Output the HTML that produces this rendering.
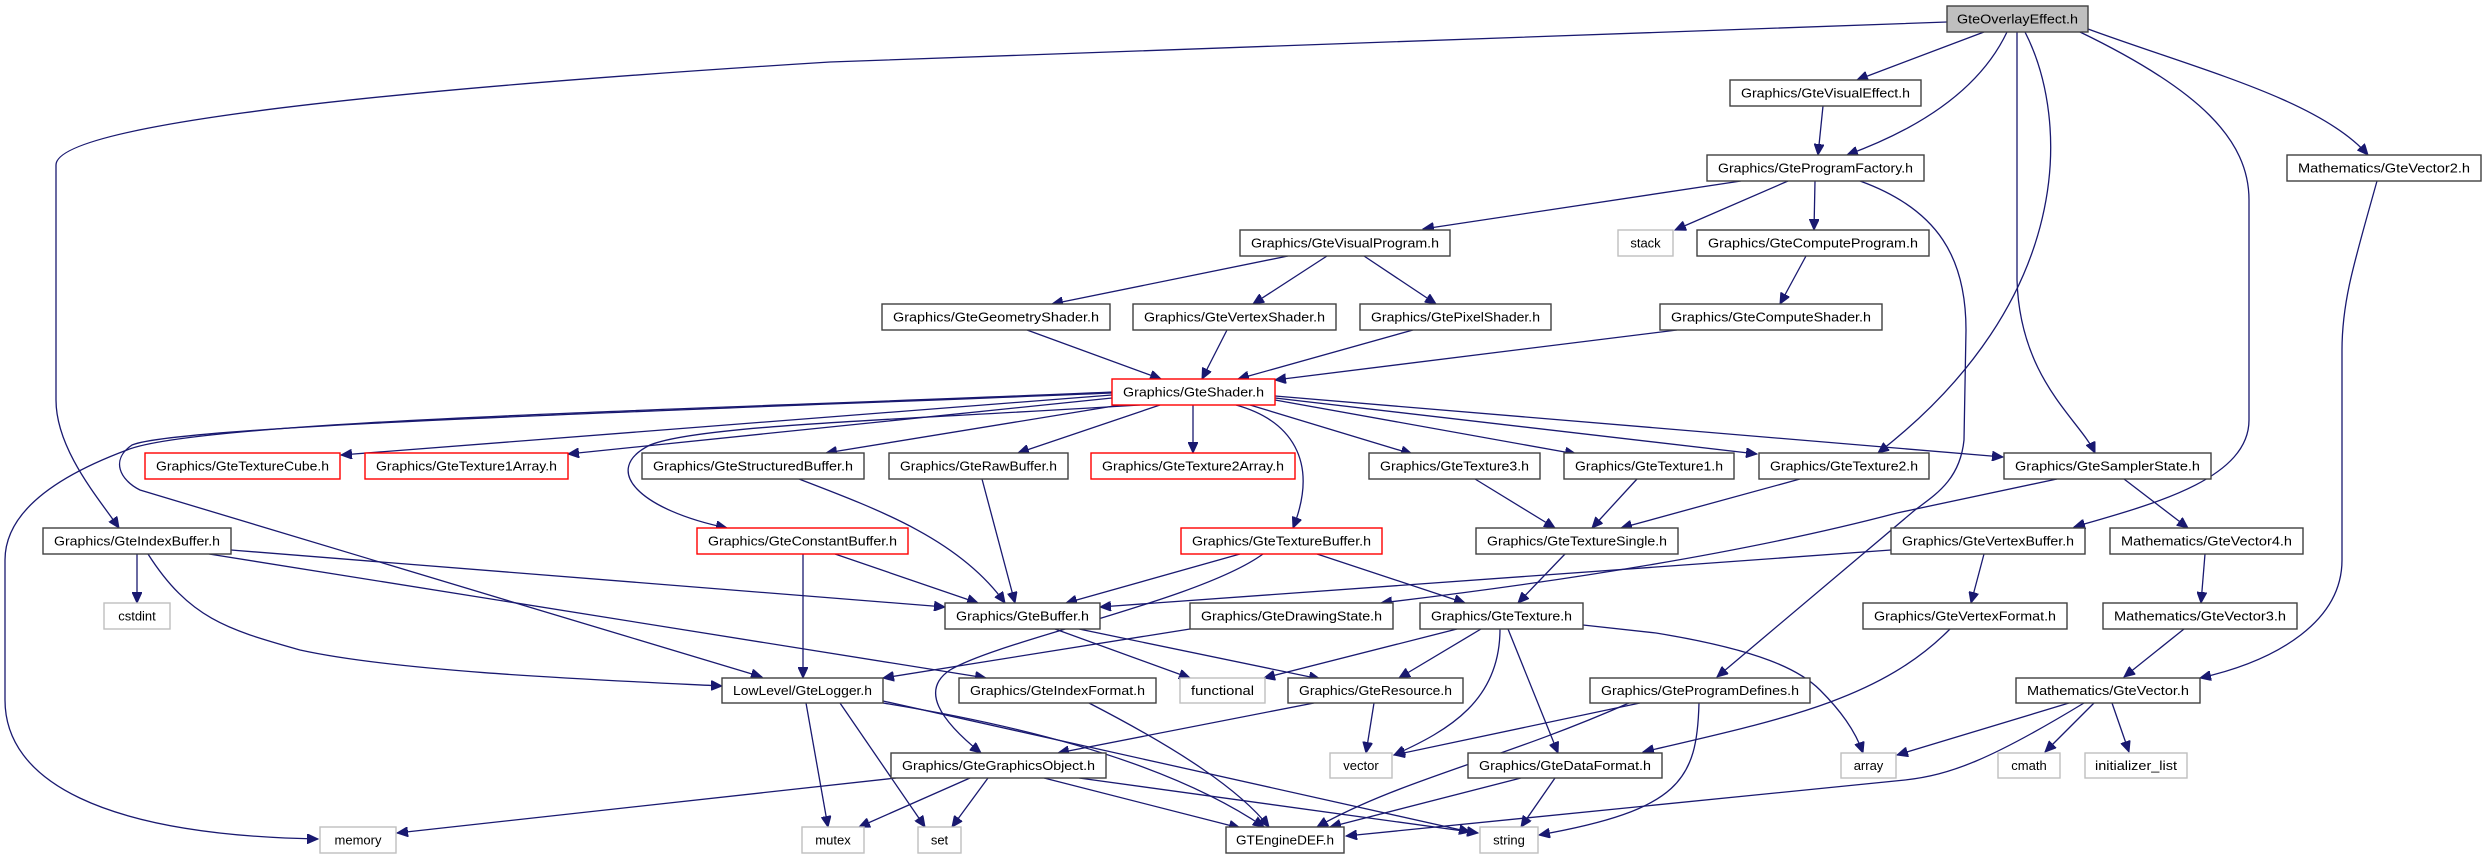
<!DOCTYPE html>
<html><head><meta charset="utf-8"><style>
html,body{margin:0;padding:0;background:#fff;}
svg{display:block;}
text{font-family:"Liberation Sans",sans-serif;font-size:13px;fill:#000;}
.e{fill:none;stroke:#191970;stroke-width:1.3;}
.n{fill:#fff;stroke:#404040;stroke-width:1.4;}
.r{fill:#fff;stroke:#ff0000;stroke-width:1.4;}
.g{fill:#fff;stroke:#bfbfbf;stroke-width:1.4;}
</style></head><body>
<svg width="2486" height="859" viewBox="0 0 2486 859" xmlns="http://www.w3.org/2000/svg">
<defs><marker id="a" markerUnits="userSpaceOnUse" markerWidth="12" markerHeight="10" refX="11" refY="5" orient="auto"><path d="M0,0 L11,5 L0,10 Z" fill="#191970" stroke="#191970"/></marker></defs>
<g marker-end="url(#a)">
<path class="e" d="M1984 32 L1857 80"/>
<path class="e" d="M2007 32 Q1970 110 1847 155"/>
<path class="e" d="M2025 32 C2070 120 2075 300 1878 453"/>
<path class="e" d="M2017 32 L2017 280 C2020 380 2080 420 2095 453"/>
<path class="e" d="M2080 32 C2200 90 2249 140 2249 200 L2249 420 C2249 480 2150 505 2074 527"/>
<path class="e" d="M2088 29 C2200 70 2320 100 2368 155"/>
<path class="e" d="M1947 22 L830 62 C300 95 56 130 56 165 L56 400 C56 450 100 500 119 528"/>
<path class="e" d="M1823 106 L1818 155"/>
<path class="e" d="M1741 181 L1423 229"/>
<path class="e" d="M1788 181 L1675 230"/>
<path class="e" d="M1815 181 L1814 230"/>
<path class="e" d="M1860 181 C1940 210 1966 260 1966 330 L1964 440 C1960 480 1935 495 1915 510 L1717 677"/>
<path class="e" d="M1806 256 L1780 304"/>
<path class="e" d="M1677 330 L1275 380"/>
<path class="e" d="M1288 256 L1052 304"/>
<path class="e" d="M1327 256 L1253 304"/>
<path class="e" d="M1364 256 L1436 304"/>
<path class="e" d="M1027 330 L1161 379"/>
<path class="e" d="M1227 330 L1202 379"/>
<path class="e" d="M1413 330 L1238 379"/>
<path class="e" d="M1112 395 L341 455"/>
<path class="e" d="M1112 398 L568 454"/>
<path class="e" d="M1120 405 L826 453"/>
<path class="e" d="M1160 405 L1018 453"/>
<path class="e" d="M1193 405 L1193 453"/>
<path class="e" d="M1236 405 C1290 420 1320 460 1293 528"/>
<path class="e" d="M1250 405 L1412 454"/>
<path class="e" d="M1275 400 L1576 454"/>
<path class="e" d="M1275 398 L1757 454"/>
<path class="e" d="M1275 396 L2003 457"/>
<path class="e" d="M1112 392 C700 410 200 420 127 450 C60 475 5 510 5 560 L5 700 C5 780 100 835 318 839"/>
<path class="e" d="M1112 393 C700 410 180 425 132 445 C110 460 120 480 140 490 L762 677"/>
<path class="e" d="M1140 405 C900 420 700 425 650 445 C600 470 640 510 727 528"/>
<path class="e" d="M137 554 L137 603"/>
<path class="e" d="M148 554 C190 620 230 630 300 650 C400 672 600 680 722 686"/>
<path class="e" d="M231 550 L945 607"/>
<path class="e" d="M209 554 L986 678"/>
<path class="e" d="M799 479 C880 510 960 540 1005 603"/>
<path class="e" d="M982 479 L1015 603"/>
<path class="e" d="M835 554 L978 603"/>
<path class="e" d="M803 554 L803 678"/>
<path class="e" d="M1240 554 L1066 603"/>
<path class="e" d="M1317 554 L1465 603"/>
<path class="e" d="M1263 554 C1200 600 1000 640 950 670 C920 690 940 720 981 753"/>
<path class="e" d="M1475 479 L1555 528"/>
<path class="e" d="M1637 479 L1592 528"/>
<path class="e" d="M1800 479 L1621 528"/>
<path class="e" d="M1565 554 L1518 603"/>
<path class="e" d="M2057 479 L1897 513 Q1700 565 1381 603"/>
<path class="e" d="M2124 479 L2188 528"/>
<path class="e" d="M1891 550 L1656 567 L1100 607"/>
<path class="e" d="M1984 554 L1971 603"/>
<path class="e" d="M1190 629 L883 678"/>
<path class="e" d="M1055 629 L1190 678"/>
<path class="e" d="M1079 629 L1320 679"/>
<path class="e" d="M1457 629 L1264 678"/>
<path class="e" d="M1481 629 L1399 678"/>
<path class="e" d="M1500 629 C1500 700 1450 730 1394 755"/>
<path class="e" d="M1508 629 L1558 753"/>
<path class="e" d="M1583 625 L1656 633 C1760 650 1800 670 1820 690 C1840 710 1855 730 1863 753"/>
<path class="e" d="M806 703 L828 827"/>
<path class="e" d="M840 703 L925 827"/>
<path class="e" d="M883 701 L1470 832"/>
<path class="e" d="M883 703 C1050 730 1180 770 1264 827"/>
<path class="e" d="M1089 703 C1180 750 1240 790 1269 827"/>
<path class="e" d="M1314 703 L1058 753"/>
<path class="e" d="M1374 703 L1366 753"/>
<path class="e" d="M1640 703 L1394 755"/>
<path class="e" d="M1629 703 C1500 760 1400 780 1317 827"/>
<path class="e" d="M1699 703 C1697 780 1680 810 1539 835"/>
<path class="e" d="M896 778 L397 833"/>
<path class="e" d="M970 778 L859 827"/>
<path class="e" d="M988 778 L952 827"/>
<path class="e" d="M1044 778 L1240 828"/>
<path class="e" d="M1079 778 L1478 833"/>
<path class="e" d="M1521 778 L1330 827"/>
<path class="e" d="M1555 778 L1521 827"/>
<path class="e" d="M1950 629 C1880 700 1780 720 1643 752"/>
<path class="e" d="M2069 703 L1897 755"/>
<path class="e" d="M2094 703 L2045 752"/>
<path class="e" d="M2112 703 L2129 752"/>
<path class="e" d="M2084 703 C1990 760 1950 775 1905 780 L1346 836"/>
<path class="e" d="M2205 554 L2201 603"/>
<path class="e" d="M2184 629 L2124 677"/>
<path class="e" d="M2377 181 C2355 260 2342 300 2342 350 L2342 560 C2342 620 2280 660 2200 678"/>
</g>
<g text-anchor="middle">
<rect x="1947" y="6" width="141" height="26" fill="#bfbfbf" stroke="#404040" stroke-width="1.4"/><text x="2017.5" y="23.5" textLength="121" lengthAdjust="spacingAndGlyphs">GteOverlayEffect.h</text>
<rect class="n" x="1730" y="80" width="191" height="26"/><text x="1825.5" y="97.5" textLength="169" lengthAdjust="spacingAndGlyphs">Graphics/GteVisualEffect.h</text>
<rect class="n" x="1707" y="155" width="217" height="26"/><text x="1815.5" y="172.5" textLength="195" lengthAdjust="spacingAndGlyphs">Graphics/GteProgramFactory.h</text>
<rect class="n" x="2287" y="155" width="194" height="26"/><text x="2384" y="172.5" textLength="172" lengthAdjust="spacingAndGlyphs">Mathematics/GteVector2.h</text>
<rect class="g" x="1618" y="230" width="55" height="26"/><text x="1645.5" y="247.5">stack</text>
<rect class="n" x="1697" y="230" width="232" height="26"/><text x="1813" y="247.5" textLength="210" lengthAdjust="spacingAndGlyphs">Graphics/GteComputeProgram.h</text>
<rect class="n" x="1660" y="304" width="222" height="26"/><text x="1771" y="321.5" textLength="200" lengthAdjust="spacingAndGlyphs">Graphics/GteComputeShader.h</text>
<rect class="n" x="1240" y="230" width="210" height="26"/><text x="1345" y="247.5" textLength="188" lengthAdjust="spacingAndGlyphs">Graphics/GteVisualProgram.h</text>
<rect class="n" x="882" y="304" width="228" height="26"/><text x="996" y="321.5" textLength="206" lengthAdjust="spacingAndGlyphs">Graphics/GteGeometryShader.h</text>
<rect class="n" x="1133" y="304" width="203" height="26"/><text x="1234.5" y="321.5" textLength="181" lengthAdjust="spacingAndGlyphs">Graphics/GteVertexShader.h</text>
<rect class="n" x="1360" y="304" width="191" height="26"/><text x="1455.5" y="321.5" textLength="169" lengthAdjust="spacingAndGlyphs">Graphics/GtePixelShader.h</text>
<rect class="r" x="1112" y="379" width="163" height="26"/><text x="1193.5" y="396.5" textLength="141" lengthAdjust="spacingAndGlyphs">Graphics/GteShader.h</text>
<rect class="r" x="145" y="453" width="195" height="26"/><text x="242.5" y="470.5" textLength="173" lengthAdjust="spacingAndGlyphs">Graphics/GteTextureCube.h</text>
<rect class="r" x="365" y="453" width="203" height="26"/><text x="466.5" y="470.5" textLength="181" lengthAdjust="spacingAndGlyphs">Graphics/GteTexture1Array.h</text>
<rect class="n" x="642" y="453" width="222" height="26"/><text x="753" y="470.5" textLength="200" lengthAdjust="spacingAndGlyphs">Graphics/GteStructuredBuffer.h</text>
<rect class="n" x="889" y="453" width="179" height="26"/><text x="978.5" y="470.5" textLength="157" lengthAdjust="spacingAndGlyphs">Graphics/GteRawBuffer.h</text>
<rect class="r" x="1091" y="453" width="204" height="26"/><text x="1193" y="470.5" textLength="182" lengthAdjust="spacingAndGlyphs">Graphics/GteTexture2Array.h</text>
<rect class="n" x="1369" y="453" width="171" height="26"/><text x="1454.5" y="470.5" textLength="149" lengthAdjust="spacingAndGlyphs">Graphics/GteTexture3.h</text>
<rect class="n" x="1564" y="453" width="170" height="26"/><text x="1649" y="470.5" textLength="148" lengthAdjust="spacingAndGlyphs">Graphics/GteTexture1.h</text>
<rect class="n" x="1759" y="453" width="170" height="26"/><text x="1844" y="470.5" textLength="148" lengthAdjust="spacingAndGlyphs">Graphics/GteTexture2.h</text>
<rect class="n" x="2004" y="453" width="207" height="26"/><text x="2107.5" y="470.5" textLength="185" lengthAdjust="spacingAndGlyphs">Graphics/GteSamplerState.h</text>
<rect class="n" x="43" y="528" width="188" height="26"/><text x="137" y="545.5" textLength="166" lengthAdjust="spacingAndGlyphs">Graphics/GteIndexBuffer.h</text>
<rect class="r" x="697" y="528" width="211" height="26"/><text x="802.5" y="545.5" textLength="189" lengthAdjust="spacingAndGlyphs">Graphics/GteConstantBuffer.h</text>
<rect class="r" x="1181" y="528" width="201" height="26"/><text x="1281.5" y="545.5" textLength="179" lengthAdjust="spacingAndGlyphs">Graphics/GteTextureBuffer.h</text>
<rect class="n" x="1476" y="528" width="202" height="26"/><text x="1577" y="545.5" textLength="180" lengthAdjust="spacingAndGlyphs">Graphics/GteTextureSingle.h</text>
<rect class="n" x="1891" y="528" width="194" height="26"/><text x="1988" y="545.5" textLength="172" lengthAdjust="spacingAndGlyphs">Graphics/GteVertexBuffer.h</text>
<rect class="n" x="2110" y="528" width="193" height="26"/><text x="2206.5" y="545.5" textLength="171" lengthAdjust="spacingAndGlyphs">Mathematics/GteVector4.h</text>
<rect class="g" x="104" y="603" width="66" height="26"/><text x="137" y="620.5">cstdint</text>
<rect class="n" x="945" y="603" width="155" height="26"/><text x="1022.5" y="620.5" textLength="133" lengthAdjust="spacingAndGlyphs">Graphics/GteBuffer.h</text>
<rect class="n" x="1190" y="603" width="203" height="26"/><text x="1291.5" y="620.5" textLength="181" lengthAdjust="spacingAndGlyphs">Graphics/GteDrawingState.h</text>
<rect class="n" x="1420" y="603" width="163" height="26"/><text x="1501.5" y="620.5" textLength="141" lengthAdjust="spacingAndGlyphs">Graphics/GteTexture.h</text>
<rect class="n" x="1863" y="603" width="204" height="26"/><text x="1965" y="620.5" textLength="182" lengthAdjust="spacingAndGlyphs">Graphics/GteVertexFormat.h</text>
<rect class="n" x="2103" y="603" width="194" height="26"/><text x="2200" y="620.5" textLength="172" lengthAdjust="spacingAndGlyphs">Mathematics/GteVector3.h</text>
<rect class="n" x="722" y="678" width="161" height="25"/><text x="802.5" y="695" textLength="139" lengthAdjust="spacingAndGlyphs">LowLevel/GteLogger.h</text>
<rect class="n" x="959" y="678" width="197" height="25"/><text x="1057.5" y="695" textLength="175" lengthAdjust="spacingAndGlyphs">Graphics/GteIndexFormat.h</text>
<rect class="g" x="1180" y="678" width="85" height="25"/><text x="1222.5" y="695" textLength="63" lengthAdjust="spacingAndGlyphs">functional</text>
<rect class="n" x="1288" y="678" width="175" height="25"/><text x="1375.5" y="695" textLength="153" lengthAdjust="spacingAndGlyphs">Graphics/GteResource.h</text>
<rect class="n" x="1590" y="678" width="220" height="25"/><text x="1700" y="695" textLength="198" lengthAdjust="spacingAndGlyphs">Graphics/GteProgramDefines.h</text>
<rect class="n" x="2016" y="678" width="184" height="25"/><text x="2108" y="695" textLength="162" lengthAdjust="spacingAndGlyphs">Mathematics/GteVector.h</text>
<rect class="n" x="891" y="753" width="215" height="25"/><text x="998.5" y="770" textLength="193" lengthAdjust="spacingAndGlyphs">Graphics/GteGraphicsObject.h</text>
<rect class="g" x="1330" y="753" width="62" height="25"/><text x="1361" y="770">vector</text>
<rect class="n" x="1468" y="753" width="194" height="25"/><text x="1565" y="770" textLength="172" lengthAdjust="spacingAndGlyphs">Graphics/GteDataFormat.h</text>
<rect class="g" x="1841" y="753" width="55" height="25"/><text x="1868.5" y="770">array</text>
<rect class="g" x="1998" y="753" width="62" height="25"/><text x="2029" y="770">cmath</text>
<rect class="g" x="2085" y="753" width="102" height="25"/><text x="2136" y="770" textLength="82" lengthAdjust="spacingAndGlyphs">initializer_list</text>
<rect class="g" x="320" y="827" width="76" height="26"/><text x="358" y="844.5">memory</text>
<rect class="g" x="802" y="827" width="62" height="26"/><text x="833" y="844.5">mutex</text>
<rect class="g" x="918" y="827" width="43" height="26"/><text x="939.5" y="844.5">set</text>
<rect class="n" x="1226" y="827" width="118" height="26"/><text x="1285" y="844.5" textLength="98" lengthAdjust="spacingAndGlyphs">GTEngineDEF.h</text>
<rect class="g" x="1480" y="827" width="58" height="26"/><text x="1509" y="844.5">string</text>
</g>
</svg>
</body></html>
